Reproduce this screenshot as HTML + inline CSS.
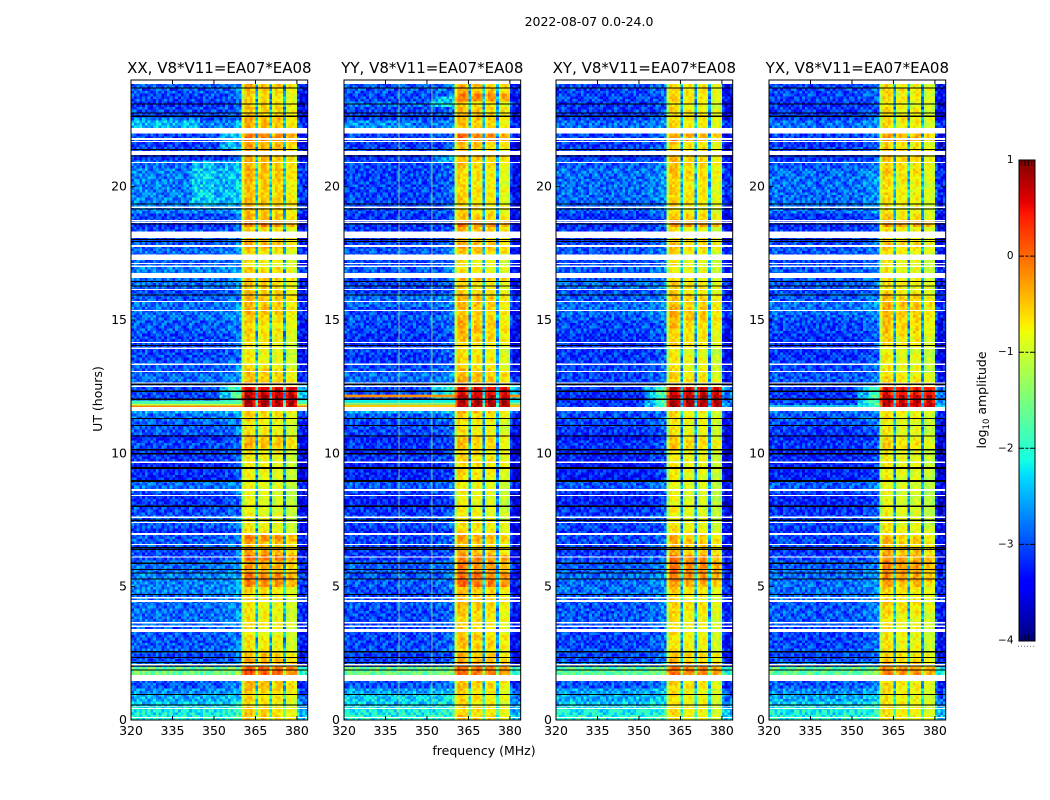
<!DOCTYPE html>
<html>
<head>
<meta charset="utf-8">
<title>2022-08-07 0.0-24.0</title>
<style>
html,body{margin:0;padding:0;background:#fff;}
svg{display:block;}
text{font-family:"DejaVu Sans","Liberation Sans",sans-serif;fill:#000;}
</style>
</head>
<body>
<svg id="fig" xmlns="http://www.w3.org/2000/svg" width="1050" height="800" viewBox="0 0 1050 800">
<text x="589" y="26" font-size="12.5" text-anchor="middle">2022-08-07 0.0-24.0</text>
<text x="484" y="755" font-size="12.5" text-anchor="middle">frequency (MHz)</text>
<text x="0" y="0" font-size="12.5" text-anchor="middle" transform="translate(102 399) rotate(-90)">UT (hours)</text>
<text x="0" y="0" font-size="12.5" text-anchor="middle" transform="translate(986 400) rotate(-90)">log<tspan font-size="8.5" dy="3">10</tspan><tspan dy="-3"> amplitude</tspan></text>
</svg>
<script>
// ---------- chart data ----------
const panelTitles = ["XX, V8*V11=EA07*EA08","YY, V8*V11=EA07*EA08","XY, V8*V11=EA07*EA08","YX, V8*V11=EA07*EA08"];
const freqTicks = [320,335,350,365,380];
const timeTicks = [0,5,10,15,20];
const colorTicks = [1,0,-1,-2,-3,-4];

// background log10 amplitude, one value per 0.25 h from UT 0 upward
const bgXX = [-1.9,-2.0,-2.2,-2.4,-2.55,-2.8,-1.55,-1.45,
 -2.7,-2.9,-2.7,-2.8,-2.8,-2.8,-2.7,-2.7,
 -2.7,-2.7,-2.7,-2.6,-2.6,-2.6,-2.7,-2.7,
 -2.9,-2.9,-2.8,-2.8,-3.0,-2.8,-2.8,-2.9,
 -3.0,-3.0,-2.8,-2.7,-3.1,-3.0,-3.1,-3.0,
 -3.0,-2.9,-3.1,-2.8,-2.8,-2.7,-2.4,-2.6,
 -2.9,-2.9,-2.8,-2.7,-2.8,-2.8,-2.9,-2.9,
 -2.9,-2.9,-2.8,-2.8,-2.7,-2.7,-2.7,-2.8,
 -2.9,-2.7,-2.7,-2.6,-2.8,-2.8,-2.7,-2.8,
 -2.9,-2.9,-3.0,-2.9,-2.6,-2.6,-2.6,-2.6,
 -2.6,-2.6,-2.6,-2.7,-3.0,-2.9,-3.0,-2.9,
 -2.4,-2.6,-2.9,-2.9,-3.0,-2.9,-2.8,-2.8];
const bgYY = [-1.9,-2.0,-2.2,-2.2,-2.45,-2.8,-1.55,-1.45,
 -2.8,-3.0,-2.8,-2.9,-2.9,-2.9,-2.9,-2.9,
 -2.9,-2.8,-2.9,-2.9,-2.8,-2.8,-2.8,-2.8,
 -3.0,-3.0,-2.9,-2.9,-3.1,-2.9,-2.9,-3.0,
 -3.1,-3.1,-2.9,-2.8,-3.1,-3.1,-3.1,-3.0,
 -3.1,-3.0,-3.1,-2.9,-2.9,-2.8,-2.4,-2.7,
 -2.9,-2.9,-2.8,-2.7,-2.8,-2.9,-3.0,-2.9,
 -3.0,-3.0,-2.9,-2.9,-2.8,-2.9,-2.7,-2.7,
 -3.0,-2.9,-2.9,-2.8,-2.9,-2.9,-2.8,-2.9,
 -3.0,-3.0,-3.0,-3.0,-2.9,-2.9,-2.9,-2.9,
 -2.9,-2.9,-2.9,-2.9,-3.0,-2.9,-3.0,-2.9,
 -2.6,-2.7,-2.9,-2.9,-2.7,-2.9,-2.8,-2.8];
const bgXY = [-1.9,-2.0,-2.2,-2.4,-2.45,-2.8,-1.55,-1.55,
 -2.7,-2.9,-2.8,-2.9,-2.9,-2.9,-2.8,-2.8,
 -2.8,-2.8,-2.8,-2.7,-2.7,-2.7,-2.8,-2.8,
 -2.9,-3.0,-2.9,-2.9,-3.0,-2.9,-2.9,-3.0,
 -3.1,-3.1,-3.0,-2.8,-3.2,-3.1,-3.2,-3.1,
 -3.1,-3.0,-3.2,-3.0,-2.9,-2.9,-2.8,-3.0,
 -3.1,-3.0,-2.9,-2.9,-2.9,-2.9,-3.0,-3.0,
 -3.0,-3.0,-2.9,-2.9,-2.8,-2.7,-2.7,-2.8,
 -2.9,-2.7,-2.8,-2.8,-2.9,-2.9,-2.8,-2.9,
 -3.0,-3.0,-3.0,-3.0,-2.8,-2.8,-2.7,-2.7,
 -2.7,-2.7,-2.7,-2.8,-3.0,-2.9,-3.0,-2.9,
 -2.6,-2.7,-2.9,-3.0,-3.0,-2.9,-2.9,-2.9];
const bgYX = [-1.9,-2.0,-2.2,-2.4,-2.55,-2.8,-1.55,-1.55,
 -2.7,-2.9,-2.8,-2.9,-2.9,-2.9,-2.8,-2.8,
 -2.8,-2.8,-2.7,-2.7,-2.7,-2.7,-2.7,-2.8,
 -2.9,-3.0,-2.9,-2.9,-3.0,-2.9,-2.9,-3.0,
 -3.1,-3.1,-2.9,-2.8,-3.1,-3.1,-3.1,-3.1,
 -3.1,-3.0,-3.1,-3.0,-2.9,-2.8,-2.7,-2.9,
 -3.0,-3.0,-2.9,-2.8,-2.9,-2.9,-3.0,-3.0,
 -3.0,-3.0,-2.9,-2.9,-2.8,-2.7,-2.7,-2.8,
 -2.9,-2.8,-2.8,-2.8,-2.9,-2.9,-2.8,-2.9,
 -3.0,-3.0,-3.0,-3.0,-2.7,-2.7,-2.7,-2.7,
 -2.7,-2.7,-2.7,-2.8,-3.0,-2.9,-3.0,-2.9,
 -2.5,-2.7,-2.9,-3.0,-3.0,-2.9,-2.9,-2.9];

// peak amplitude inside the 360-380 MHz band, one value per 0.25 h
const hotXX = [-.6,-.65,-.8,-.7,-.6,-.5,-.4,0,
 -.35,-.5,-.75,-.8,-.8,-.85,-.7,-.8,
 -.8,-.8,-.75,-.7,-.25,-.2,-.4,-.4,
 -.1,-.4,-.5,-.25,-.8,-.85,-.9,-.9,
 -.95,-.95,-.95,-.9,-.9,-.85,-.85,-.85,
 -.8,-.5,-.55,-.8,-.85,-.7,-.6,.85,
 .85,.7,-.5,-.6,-.6,-.8,-.85,-.85,
 -.8,-.75,-.7,-.7,-.65,-.5,-.55,-.5,
 -.6,-.6,-.55,-.7,-.8,-.8,-.7,-.45,
 -.5,-.7,-.2,-.5,-.6,-.5,-.6,-.6,
 -.6,-.5,-.5,-.5,-.5,-.45,-.4,-.2,
 -.3,-.5,-.45,-.6,-.6,-.7,-.6,-.5];
const hotYY = [-.6,-.7,-.75,-.7,-.7,-.6,-.4,-.1,
 -.25,-.5,-.7,-.6,-.55,-.7,-.7,-.7,
 -.6,-.55,-.55,-.55,-.1,-.1,-.25,-.25,
 -.2,-.5,-.6,-.4,-.7,-.75,-.85,-.85,
 -.9,-.9,-.9,-.85,-.8,-.7,-.7,-.7,
 -.7,-.6,-.6,-.8,-.8,-.7,-.5,.85,
 .8,.6,-.4,-.5,-.6,-.7,-.7,-.8,
 -.7,-.6,-.5,-.5,-.6,-.6,-.5,-.5,
 -.7,-.7,-.5,-.8,-.8,-.8,-.55,-.45,
 -.6,-.5,-.2,-.6,-.7,-.7,-.7,-.7,
 -.75,-.7,-.75,-.6,-.55,-.6,-.55,-.15,
 -.4,-.6,-.5,-.55,-.7,-.2,-.5,-.5];
const hotXY = [-.8,-.8,-.8,-.8,-.8,-.7,-.5,-.15,
 -.4,-.6,-.8,-.8,-.8,-.8,-.75,-.8,
 -.7,-.7,-.75,-.7,-.4,-.2,-.15,-.15,
 -.2,-.55,-.55,-.5,-.8,-.85,-.9,-.9,
 -.95,-.95,-.95,-.95,-.9,-.85,-.85,-.85,
 -.8,-.6,-.7,-.85,-.85,-.8,-.7,.85,
 .85,.7,-.6,-.7,-.8,-.85,-.85,-.9,
 -.7,-.7,-.7,-.6,-.5,-.5,-.6,-.6,
 -.7,-.7,-.8,-.85,-.85,-.85,-.7,-.6,
 -.7,-.8,-.3,-.6,-.8,-.7,-.7,-.7,
 -.75,-.65,-.6,-.6,-.6,-.65,-.7,-.4,
 -.5,-.75,-.7,-.75,-.8,-.7,-.7,-.7];
const hotYX = [-.75,-.8,-.8,-.8,-.75,-.7,-.5,-.25,
 -.5,-.65,-.8,-.8,-.8,-.8,-.75,-.8,
 -.7,-.65,-.7,-.7,-.45,-.3,-.3,-.25,
 -.3,-.5,-.55,-.55,-.8,-.85,-.9,-.9,
 -.95,-.95,-.95,-.95,-.9,-.85,-.85,-.85,
 -.85,-.65,-.75,-.85,-.9,-.8,-.7,.75,
 .75,.55,-.6,-.7,-.85,-.85,-.85,-.9,
 -.75,-.7,-.6,-.6,-.55,-.5,-.5,-.55,
 -.75,-.75,-.8,-.85,-.85,-.85,-.7,-.6,
 -.65,-.75,-.3,-.65,-.8,-.75,-.75,-.75,
 -.8,-.7,-.65,-.65,-.6,-.6,-.7,-.4,
 -.5,-.75,-.7,-.75,-.8,-.75,-.7,-.75];

const bgSeries = [bgXX,bgYY,bgXY,bgYX];
const hotSeries = [hotXX,hotYY,hotXY,hotYX];

// how much of the band level each 1 MHz channel receives (320..383 MHz)
const channelBandWeight = [0,0,0,0,0,0,0,0,0,0,0,0,0,0,0,0,0,0,0,0,
 0,0,0,0,0,0,0,0,0,0,0,0,0,0,0,0,0,0,0,.02,
 .75,1,1,1,.92,.2,.9,1,1,.95,.2,.9,1,1,.95,.18,.9,1,1,.93,
 .04,0,0,0];
// background tilt per channel
const channelBgTilt = [.02,.06,.08,.05,.03,.04,.02,0,.02,.04,.03,.02,0,.02,.04,.02,0,-.02,-.03,-.02,
 .02,.04,.02,0,.02,.03,.02,.04,.05,.04,.02,.04,.06,.08,.1,.12,.14,.18,.2,.22,
 .2,.1,0,0,0,0,0,0,0,0,0,0,0,0,0,0,0,0,0,0,
 -.2,-.35,-.35,-.3];
// brightness difference of the four sub-bands per polarisation
const subBandOffset = [[0,-.08,-.12,-.3],[0,-.1,-.15,-.3],[0,-.12,-.14,-.32],[0,-.12,-.12,-.3]];
// global level corrections
const bgLevelShift = -.17;
const bandLevelShift = .17;

// speckle residuals (digit 0..9 around the local level)
const speckle = [
"37160942851736029485172630948","82504716392850417369205841763","15938264071593820647159302864",
"60427391856042739185604273918","94713058267149305826714930582","28165940372816594037281659403",
"73590216487359021648735902164","41826705934182670593418267059","05379184620537918462053791846",
"68241597306824159730682415973","19704362851970436285197043628","52968013745296801374529680137",
"86035729418603572941860357294","30417685923041768592304176859","74182936057418293605741829360",
"27593140682759314068275931406","91360825479136082547913608254","45826071394582607139458260713",
"08719453260871945326087194532","63054298716305429871630542987","16492738501649273850164927385",
"89207164358920716435892071643","32685910473268591047326859104"];

// flagged (white) UT ranges, hours
const whiteStart = [23.85,21.99,21.75,21.68,21.18,20.88,19.2,18.7,18.63,18.07,17.74,17.25,17.1,16.99,16.57,16.12,15.67,15.34,14.13,13.91,13.31,13.05,12.62,12.49,11.59,9.64,8.59,8.4,7.58,7.39,6.94,6.56,6.09,4.56,4.43,3.62,3.49,3.3,2.05,1.47,.49,.41,.075];
const whiteEnd = [24,22.2,21.82,21.72,21.34,20.93,19.25,18.75,18.67,18.31,17.81,17.45,17.14,17.04,16.77,16.16,15.71,15.37,14.18,13.97,13.37,13.09,12.66,12.54,11.73,9.69,8.66,8.44,7.63,7.43,7.01,6.6,6.13,4.61,4.5,3.67,3.54,3.42,2.1,1.68,.51,.45,.11];
// dark gap lines: UT centre and duration, hours
const blackTime = [23.7,23.1,22.77,22.64,21.4,21.15,19.35,19.16,18.6,18.02,17.94,16.45,16.28,15.94,14.05,12.59,12.33,12.03,11.31,11.05,10.65,10.13,9.98,9.45,8.96,8.01,7.49,6.46,6.39,5.88,5.64,5.52,5.29,4.7,2.56,2.35,2.15,2.02,1.87,.96,.57];
const blackSpan = [.04,.055,.04,.045,.04,.04,.055,.04,.04,.04,.04,.04,.04,.04,.04,.04,.04,.04,.04,.04,.03,.055,.055,.075,.075,.055,.055,.04,.04,.04,.04,.04,.04,.04,.04,.04,.04,.04,.04,.04,.04];

// broad brightening: [UT from, UT to, MHz from, MHz to, delta]
const bgPatchesXX = [[19.3,21,342.5,350,.4],[19.3,21,350,360,.2],[22.2,22.6,320,345,.3],[11.8,12.6,352,356,.6],[11.8,12.6,356,361,1.1],[11.8,12.6,380,384,1.0],[21.4,22,352,361,.5]];
const bgPatchesYY = [[11.9,12.6,352,361,.7],[11.9,12.6,380,384,1.0],[20.9,21.2,352,361,.4],[23,23.4,352,361,.5],[22.2,22.5,320,345,.2]];
const bgPatchesXY = [[11.7,12.5,352,356,.6],[11.7,12.5,356,361,1.2],[11.7,12.5,380,384,.7]];
const bgPatchesYX = [[11.7,12.5,352,356,.6],[11.7,12.5,356,361,1.1],[11.7,12.5,380,384,.7]];
const bgPatchSets = [bgPatchesXX,bgPatchesYY,bgPatchesXY,bgPatchesYX];

// narrow band-wide stripes outside the hot band: [UT from, UT to, level]
const stripesXX = [[11.85,11.98,-1.8],[11.79,11.85,-1.0],[11.73,11.79,-.15]];
const stripesYY = [[12.1,12.2,-.2],[11.9,12,-2.2],[11.82,11.9,-1.4],[11.73,11.82,-.5]];
const stripesXY = [[12.3,12.35,-1.9]];
const stripesYX = [[12.3,12.35,-1.6],[11.75,11.8,-2.1]];
const stripeSets = [stripesXX,stripesYY,stripesXY,stripesYX];

// narrow continuous interference lines, MHz, per panel
const rfiLines = [[],[339.9,351.8],[],[]];

// ---------- layout and scales ----------
const svgNS = "http://www.w3.org/2000/svg";
const fig = document.getElementById("fig");
const panelLeft = [131,344,556,769];
const panelWidth = 176.7;
const plotTop = 80, plotBottom = 720;
const MHZ_MIN = 320, MHZ_MAX = 383.9;
const UT_MAX = 24;
const rowHours = 0.1;
const CHANNELS = channelBandWeight.length;

function xScale(p,f){ return panelLeft[p] + (f-MHZ_MIN)/(MHZ_MAX-MHZ_MIN)*panelWidth; }
function yScale(t){ return plotBottom - t/UT_MAX*(plotBottom-plotTop); }
function lerpJet(pts,x){
  for(let i=1;i<pts.length;i++){
    if(x<=pts[i][0]){
      const a=pts[i-1],b=pts[i];
      return a[1]+(b[1]-a[1])*(x-a[0])/(b[0]-a[0]);
    }
  }
  return pts[pts.length-1][1];
}
const jetR=[[0,0],[.35,0],[.66,1],[.89,1],[1,.5]];
const jetG=[[0,0],[.125,0],[.375,1],[.64,1],[.91,0],[1,0]];
const jetB=[[0,.5],[.11,1],[.34,1],[.65,0],[1,0]];
function colorScale(v){
  const f=Math.max(0,Math.min(1,(v+4)/5));
  return "rgb("+Math.round(255*lerpJet(jetR,f))+","+Math.round(255*lerpJet(jetG,f))+","+Math.round(255*lerpJet(jetB,f))+")";
}
function cellValue(p,row,ch){
  const t=(row+.5)*rowHours, f=MHZ_MIN+ch+.5;
  const idx=Math.min(95,Math.floor(t/.25));
  const w=channelBandWeight[ch];
  let bg=bgSeries[p][idx]+channelBgTilt[ch]+bgLevelShift;
  bgPatchSets[p].forEach(function(q){ if(t>=q[0]&&t<q[1]&&f>=q[2]&&f<q[3]) bg+=q[4]; });
  const sub=ch<45?0:ch<50?1:ch<55?2:3;
  const peak=hotSeries[p][idx];
  const hot=(peak<.5?peak+bandLevelShift:peak)+(peak<.5?subBandOffset[p][sub]:0);
  const s=speckle[(row+p*5)%speckle.length];
  const tex=(+s.charAt((ch+p*7)%s.length)-4.5)*.09;
  return bg+w*(hot-bg)+tex*(w>.5?.5:1);
}

// ---------- panels ----------
panelTitles.forEach(function(title,p){
  const g=document.createElementNS(svgNS,"g");
  
  
  fig.appendChild(g);

  // heatmap cells
  const hm=document.createElementNS(svgNS,"g");
  
  
  hm.setAttribute("shape-rendering","crispEdges");
  g.appendChild(hm);
  const rows=Math.round(UT_MAX/rowHours);
  for(let r=0;r<rows;r++){
    for(let c=0;c<CHANNELS;c++){
      const x0=xScale(p,MHZ_MIN+c), x1=Math.min(xScale(p,MHZ_MIN+c+1),xScale(p,MHZ_MAX));
      const y1=yScale(r*rowHours), y0=yScale((r+1)*rowHours);
      const cell=document.createElementNS(svgNS,"rect");
      
      
      cell.setAttribute("x",x0.toFixed(2));
      cell.setAttribute("y",y0.toFixed(2));
      cell.setAttribute("width",(x1-x0+.4).toFixed(2));
      cell.setAttribute("height",(y1-y0+.4).toFixed(2));
      cell.setAttribute("fill",colorScale(cellValue(p,r,c)));
      hm.appendChild(cell);
    }
  }

  // narrow stripes outside the hot band
  stripeSets[p].forEach(function(st){
    [[MHZ_MIN,360.3],[380,MHZ_MAX]].forEach(function(span){
      const el=document.createElementNS(svgNS,"rect");
      
      
      el.setAttribute("x",xScale(p,span[0]));
      el.setAttribute("y",yScale(st[1]));
      el.setAttribute("width",xScale(p,span[1])-xScale(p,span[0]));
      el.setAttribute("height",yScale(st[0])-yScale(st[1]));
      el.setAttribute("fill",colorScale(st[2]));
      g.appendChild(el);
    });
  });

  // interference lines
  rfiLines[p].forEach(function(f){
    const el=document.createElementNS(svgNS,"line");
    
    
    el.setAttribute("x1",xScale(p,f));
    el.setAttribute("x2",xScale(p,f));
    el.setAttribute("y1",yScale(0));
    el.setAttribute("y2",yScale(UT_MAX));
    el.setAttribute("stroke","#a8e87c");
    el.setAttribute("stroke-width","1");
    el.setAttribute("stroke-opacity",".8");
    g.appendChild(el);
  });

  // white flagged ranges
  whiteStart.forEach(function(t0,i){
    const el=document.createElementNS(svgNS,"rect");
    
    
    el.setAttribute("x",panelLeft[p]);
    el.setAttribute("y",yScale(whiteEnd[i]));
    el.setAttribute("width",panelWidth);
    el.setAttribute("height",yScale(t0)-yScale(whiteEnd[i]));
    el.setAttribute("fill","#fff");
    el.setAttribute("shape-rendering","crispEdges");
    g.appendChild(el);
  });

  // black gaps
  blackTime.forEach(function(t,i){
    const el=document.createElementNS(svgNS,"rect");
    
    
    el.setAttribute("x",panelLeft[p]);
    el.setAttribute("y",yScale(t+blackSpan[i]/2));
    el.setAttribute("width",panelWidth);
    el.setAttribute("height",Math.max(1.1,blackSpan[i]/UT_MAX*(plotBottom-plotTop)));
    el.setAttribute("fill","#000");
    el.setAttribute("shape-rendering","crispEdges");
    g.appendChild(el);
  });

  // frame
  const frame=document.createElementNS(svgNS,"rect");
  
  
  frame.setAttribute("x",panelLeft[p]);
  frame.setAttribute("y",plotTop);
  frame.setAttribute("width",panelWidth);
  frame.setAttribute("height",plotBottom-plotTop);
  frame.setAttribute("fill","none");
  frame.setAttribute("stroke","#000");
  frame.setAttribute("stroke-width","1");
  g.appendChild(frame);

  // title
  const tt=document.createElementNS(svgNS,"text");
  
  
  tt.setAttribute("x",panelLeft[p]+panelWidth/2);
  tt.setAttribute("y",plotTop-7);
  tt.setAttribute("font-size","15");
  tt.setAttribute("text-anchor","middle");
  tt.textContent=title;
  g.appendChild(tt);

  // frequency ticks
  freqTicks.forEach(function(f){
    const x=xScale(p,f);
    [[plotBottom,plotBottom-4],[plotTop,plotTop+4]].forEach(function(ends){
      const tk=document.createElementNS(svgNS,"line");
      
      
      tk.setAttribute("x1",x);
      tk.setAttribute("x2",x);
      tk.setAttribute("y1",ends[0]);
      tk.setAttribute("y2",ends[1]);
      tk.setAttribute("stroke","#000");
      tk.setAttribute("stroke-width","1");
      g.appendChild(tk);
    });
    const lb=document.createElementNS(svgNS,"text");
    
    
    lb.setAttribute("x",x);
    lb.setAttribute("y",plotBottom+15);
    lb.setAttribute("font-size","12.5");
    lb.setAttribute("text-anchor","middle");
    lb.textContent=String(f);
    g.appendChild(lb);
  });

  // time ticks
  timeTicks.forEach(function(t){
    const y=yScale(t);
    [[panelLeft[p],panelLeft[p]+4],[panelLeft[p]+panelWidth,panelLeft[p]+panelWidth-4]].forEach(function(ends){
      const tk=document.createElementNS(svgNS,"line");
      
      
      tk.setAttribute("x1",ends[0]);
      tk.setAttribute("x2",ends[1]);
      tk.setAttribute("y1",y);
      tk.setAttribute("y2",y);
      tk.setAttribute("stroke","#000");
      tk.setAttribute("stroke-width","1");
      g.appendChild(tk);
    });
    const lb=document.createElementNS(svgNS,"text");
    
    
    lb.setAttribute("x",panelLeft[p]-4);
    lb.setAttribute("y",y+4);
    lb.setAttribute("font-size","12.5");
    lb.setAttribute("text-anchor","end");
    lb.textContent=String(t);
    g.appendChild(lb);
  });
});

// ---------- colorbar ----------
const cbLeft=1019.5, cbRight=1034.5, cbTop=160, cbBottom=640.5;
function cbY(v){ return cbBottom-(v+4)/5*(cbBottom-cbTop); }
const cb=document.createElementNS(svgNS,"g");


fig.appendChild(cb);
for(let v=-4;v<1;v+=.02){
  const s=document.createElementNS(svgNS,"rect");
  
  
  s.setAttribute("x",cbLeft);
  s.setAttribute("y",cbY(v+.02));
  s.setAttribute("width",cbRight-cbLeft);
  s.setAttribute("height",cbY(v)-cbY(v+.02)+.5);
  s.setAttribute("fill",colorScale(v));
  s.setAttribute("shape-rendering","crispEdges");
  cb.appendChild(s);
}
const cbFrame=document.createElementNS(svgNS,"rect");


cbFrame.setAttribute("x",1019);
cbFrame.setAttribute("y",cbTop);
cbFrame.setAttribute("width",16);
cbFrame.setAttribute("height",481);
cbFrame.setAttribute("fill","none");
cbFrame.setAttribute("stroke","#000");
cbFrame.setAttribute("stroke-width","1");
cb.appendChild(cbFrame);
colorTicks.forEach(function(v){
  const y=cbY(v);
  if(v>-4&&v<1){
    const tk=document.createElementNS(svgNS,"line");
    
    
    tk.setAttribute("x1",1019);
    tk.setAttribute("x2",1035);
    tk.setAttribute("y1",y);
    tk.setAttribute("y2",y);
    tk.setAttribute("stroke","#000");
    tk.setAttribute("stroke-width","1");
    tk.setAttribute("stroke-dasharray","5 1.5 3 1.5 5");
    cb.appendChild(tk);
  }
  const lb=document.createElementNS(svgNS,"text");
  
  
  lb.setAttribute("x",1013.5);
  lb.setAttribute("y",y+3);
  lb.setAttribute("font-size","10.5");
  lb.setAttribute("text-anchor","end");
  lb.textContent=v<0?"\u2212"+Math.abs(v):String(v);
  cb.appendChild(lb);
});
[1021.7,1025,1028.3,1031.7].forEach(function(x){
  [[cbTop,cbTop+6],[cbBottom,cbBottom-6]].forEach(function(ends){
    const tk=document.createElementNS(svgNS,"line");
    
    
    tk.setAttribute("x1",x);
    tk.setAttribute("x2",x);
    tk.setAttribute("y1",ends[0]);
    tk.setAttribute("y2",ends[1]);
    tk.setAttribute("stroke","#000");
    tk.setAttribute("stroke-width",".8");
    cb.appendChild(tk);
  });
});
const dots=document.createElementNS(svgNS,"text");


dots.setAttribute("x",1017);
dots.setAttribute("y",647);
dots.setAttribute("font-size","9.5");
dots.setAttribute("style","fill:#888");
dots.textContent="......";
cb.appendChild(dots);
</script>
</body>
</html>
